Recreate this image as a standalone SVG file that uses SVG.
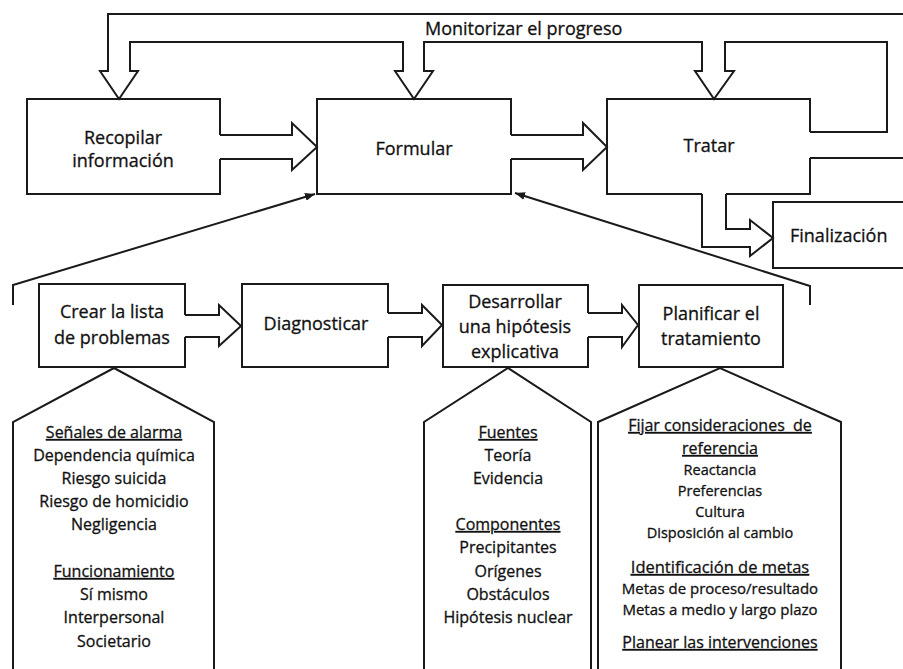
<svg xmlns="http://www.w3.org/2000/svg" width="903" height="669" viewBox="0 0 903 669">
<style>
.ln{fill:none;stroke:#1a1a1a;stroke-width:2;stroke-linejoin:miter}
.t{font-family:"Open Sans","Liberation Sans",sans-serif;fill:#111;stroke:#111;stroke-width:0.3;text-anchor:middle}
.b{font-size:18px}
.p{font-size:16px}
.s{font-size:14.5px}
.m{font-size:15px}
.u{text-decoration:underline}
</style>
<defs>
<marker id="ah" viewBox="0 0 10 8" refX="10" refY="4" markerWidth="10" markerHeight="8" markerUnits="userSpaceOnUse" orient="auto">
<path d="M0,0 L10,4 L0,8 Z" fill="#1a1a1a"/>
</marker>
</defs>
<rect width="903" height="669" fill="#fff"/>

<g id="connectors">
<path class="ln" d="M810,132 H887 V42 H725 V71 H734 L714,99 L695,71 H702 V42 H424 V71 H433 L414,99 L395,71 H403 V42 H130 V71 H138 L119,99 L100,71 H108 V14 H905"/>
<path class="ln" d="M810,158 H905"/>
<path class="ln" d="M726,194 V229 H750 V220 L773,238 L750,256 V247 H702 V194"/>
<path class="ln" d="M220,135 H292 V123 L317,147 L292,170 V159 H220"/>
<path class="ln" d="M511,135 H583 V123 L607,147 L583,170 V159 H511"/>
<path class="ln" d="M185,315 H219 V305 L241,326 L219,346 V337 H185"/>
<path class="ln" d="M388,313 H422 V305 L442,325 L422,346 V337 H388"/>
<path class="ln" d="M588,313 H622 V305 L638,325 L622,347 V337 H588"/>
<path class="ln" d="M13,305 V285 L315,194" marker-end="url(#ah)"/>
<path class="ln" d="M810,305 V286 L515,193" marker-end="url(#ah)"/>
<text class="t b" x="425" y="35" style="text-anchor:start">Monitorizar el progreso</text>
</g>

<g id="recopilar">
<path class="ln" d="M220,135 V99 H27 V194 H220 V159"/>
<text class="t b" x="123" y="144">Recopilar</text>
<text class="t b" x="123" y="167">información</text>
</g>
<g id="formular">
<path class="ln" d="M511,135 V99 H317 V194 H511 V159"/>
<text class="t b" x="414" y="155">Formular</text>
</g>
<g id="tratar">
<path class="ln" d="M702,194 H607 V99 H810 V132 M810,158 V194 H726"/>
<text class="t b" x="709" y="152">Tratar</text>
</g>
<g id="finalizacion">
<path class="ln" d="M906,202 H773 V268 H906"/>
<text class="t b" x="790" y="242" style="text-anchor:start">Finalización</text>
</g>

<g id="crear">
<path class="ln" d="M185,315 V284 H39 V367 H185 V337"/>
<text class="t b" x="112" y="318">Crear la lista</text>
<text class="t b" x="112" y="344">de problemas</text>
</g>
<g id="diagnosticar">
<path class="ln" d="M388,313 V284 H242 V367 H388 V337"/>
<text class="t b" x="316" y="330">Diagnosticar</text>
</g>
<g id="desarrollar">
<path class="ln" d="M588,313 V285 H443 V367 H588 V337"/>
<text class="t b" x="515" y="308">Desarrollar</text>
<text class="t b" x="515" y="333">una hipótesis</text>
<text class="t b" x="515" y="358">explicativa</text>
</g>
<g id="planificar">
<path class="ln" d="M639,285 H783 V367 H639 Z"/>
<text class="t b" x="711" y="320">Planificar el</text>
<text class="t b" x="711" y="345">tratamiento</text>
</g>

<g id="pent-problemas">
<path class="ln" d="M13,670 V422 L114,368 L214,422 V670"/>
<text class="t p u" x="114" y="438">Señales de alarma</text>
<text class="t p" x="114" y="461">Dependencia química</text>
<text class="t p" x="114" y="484">Riesgo suicida</text>
<text class="t p" x="114" y="507">Riesgo de homicidio</text>
<text class="t p" x="114" y="530">Negligencia</text>
<text class="t p u" x="114" y="577">Funcionamiento</text>
<text class="t p" x="114" y="600">Sí mismo</text>
<text class="t p" x="114" y="623">Interpersonal</text>
<text class="t p" x="114" y="647">Societario</text>
</g>
<g id="pent-hipotesis">
<path class="ln" d="M424,670 V422 L508,368 L591,422 V670"/>
<text class="t p u" x="508" y="438">Fuentes</text>
<text class="t p" x="508" y="461">Teoría</text>
<text class="t p" x="508" y="484">Evidencia</text>
<text class="t p u" x="508" y="530">Componentes</text>
<text class="t p" x="508" y="553">Precipitantes</text>
<text class="t p" x="508" y="577">Orígenes</text>
<text class="t p" x="508" y="600">Obstáculos</text>
<text class="t p" x="508" y="623">Hipótesis nuclear</text>
</g>
<g id="pent-tratamiento">
<path class="ln" d="M598,670 V422 L720,368 L841,422 V670"/>
<text class="t p u" x="720" y="431" xml:space="preserve">Fijar consideraciones  de</text>
<text class="t p u" x="720" y="454">referencia</text>
<text class="t s" x="720" y="475">Reactancia</text>
<text class="t s" x="720" y="496">Preferencias</text>
<text class="t s" x="720" y="517">Cultura</text>
<text class="t s" x="720" y="538">Disposición al cambio</text>
<text class="t p u" x="720" y="573" style="font-size:16.5px">Identificación de metas</text>
<text class="t m" x="720" y="594">Metas de proceso/resultado</text>
<text class="t m" x="720" y="615">Metas a medio y largo plazo</text>
<text class="t p u" x="720" y="648">Planear las intervenciones</text>
</g>
</svg>
